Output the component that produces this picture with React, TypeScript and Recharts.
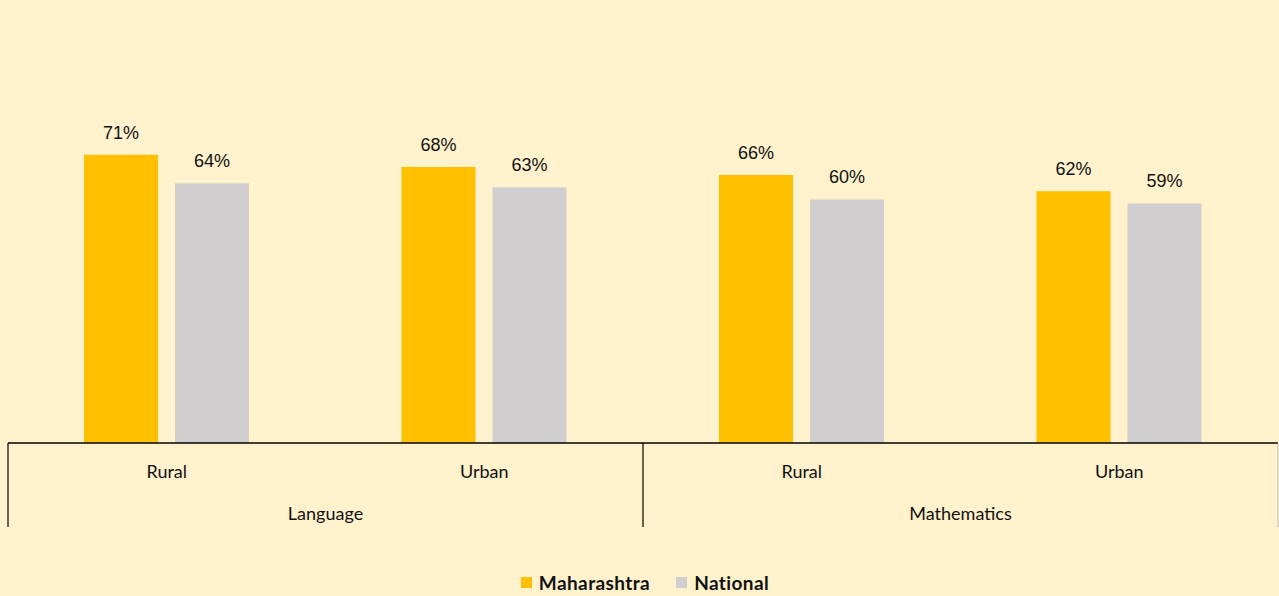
import React from 'react';
import { BarChart, Bar, XAxis, YAxis, Legend, LabelList } from 'recharts';

const subjects = ['Language', 'Language', 'Mathematics', 'Mathematics'];
const areas = ['Rural', 'Urban', 'Rural', 'Urban'];
const maharashtra = [71, 68, 66, 62];
const national = [64, 63, 60, 59];

const data = areas.map((a, i) => ({
  sub: `${a}-${i}`,
  area: a,
  group: subjects[i],
  maharashtra: maharashtra[i],
  national: national[i],
}));

const COLORS = { maharashtra: '#FFC000', national: '#D0CECE' };
const BG = '#FFF2CC';
const AXIS_FONT = 'Lato, "Open Sans", sans-serif';

const SubTick = (props: any) => {
  const { x, y, index } = props;
  return (
    <text x={x} y={y + 28} textAnchor="middle" dominantBaseline="central" fontFamily={AXIS_FONT} fontSize={18} fill="#111">
      {data[index].area}
    </text>
  );
};

const GroupTick = (props: any) => {
  const { x, y, payload, index, visibleTicksCount } = props;
  const off = payload.offset || 0;
  const isLast = index === (visibleTicksCount || 2) - 1;
  return (
    <g>
      <line x1={x - off} x2={x - off} y1={y - 42} y2={y + 42} stroke="#000" strokeWidth={1.2} />
      {isLast && <line x1={x + off} x2={x + off} y1={y - 42} y2={y + 42} stroke="#bbb" strokeWidth={1} />}
      <text x={x} y={y + 28} textAnchor="middle" dominantBaseline="central" fontFamily={AXIS_FONT} fontSize={18} fill="#111">
        {payload.value}
      </text>
    </g>
  );
};

const LegendContent = () => (
  <div style={{ display: 'flex', justifyContent: 'center', alignItems: 'center', height: 20, paddingLeft: 11, fontFamily: AXIS_FONT, fontWeight: 700, fontSize: 19, letterSpacing: 0.4, color: '#111' }}>
    <span style={{ display: 'inline-block', width: 11, height: 11, background: COLORS.maharashtra, marginRight: 7 }} />
    <span style={{ marginRight: 26 }}>Maharashtra</span>
    <span style={{ display: 'inline-block', width: 11, height: 11, background: COLORS.national, marginRight: 7 }} />
    <span>National</span>
  </div>
);

const fmt = (v: any) => `${v}%`;

export default function App() {
  return (
    <div style={{ position: 'absolute', left: 0, top: 0, width: 1279, height: 596, background: BG }}>
      <BarChart
        width={1279}
        height={596}
        data={data}
        margin={{ top: 37, right: 1, left: 8, bottom: 4 }}
        barCategoryGap={76}
        barGap={17}
      >
        <YAxis hide domain={[0, 100]} />
        <XAxis
          dataKey="sub"
          xAxisId={0}
          height={42}
          tickLine={false}
          tickSize={0}
          tickMargin={0}
          axisLine={{ stroke: '#000', strokeWidth: 1.5 }}
          tick={<SubTick />}
          interval={0}
        />
        <XAxis
          dataKey="group"
          xAxisId="group"
          height={87}
          allowDuplicatedCategory={false}
          tickLine={false}
          tickSize={0}
          tickMargin={0}
          axisLine={false}
          tick={<GroupTick />}
          interval={0}
        />
        <Legend verticalAlign="bottom" align="center" height={20} content={<LegendContent />} wrapperStyle={{ left: 0, width: 1279 }} />
        <Bar dataKey="maharashtra" name="Maharashtra" fill={COLORS.maharashtra} barSize={74} isAnimationActive={false}>
          <LabelList dataKey="maharashtra" position="top" offset={16} formatter={fmt} style={{ fontFamily: '"Liberation Sans", Arial, sans-serif', fontSize: 18, fill: '#111' }} />
        </Bar>
        <Bar dataKey="national" name="National" fill={COLORS.national} barSize={74} isAnimationActive={false}>
          <LabelList dataKey="national" position="top" offset={16} formatter={fmt} style={{ fontFamily: '"Liberation Sans", Arial, sans-serif', fontSize: 18, fill: '#111' }} />
        </Bar>
      </BarChart>
    </div>
  );
}
